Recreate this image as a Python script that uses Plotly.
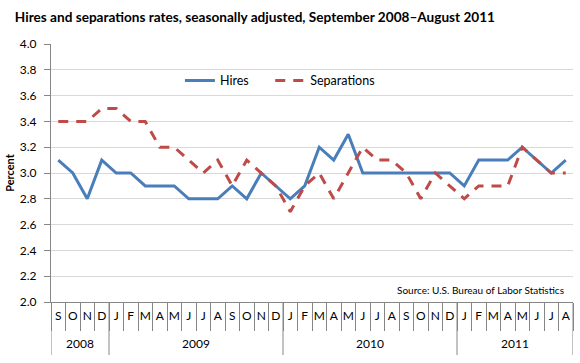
import plotly.graph_objects as go

years = ["2008"] * 4 + ["2009"] * 12 + ["2010"] * 12 + ["2011"] * 8
months = (["S", "O", "N", "D"]
          + ["J", "F", "M", "A", "M", "J", "J", "A", "S", "O", "N", "D"]
          + ["J", "F", "M", "A", "M", "J", "J", "A", "S", "O", "N", "D"]
          + ["J", "F", "M", "A", "M", "J", "J", "A"])

hires = [3.1, 3.0, 2.8, 3.1,
         3.0, 3.0, 2.9, 2.9, 2.9, 2.8, 2.8, 2.8, 2.9, 2.8, 3.0, 2.9,
         2.8, 2.9, 3.2, 3.1, 3.3, 3.0, 3.0, 3.0, 3.0, 3.0, 3.0, 3.0,
         2.9, 3.1, 3.1, 3.1, 3.2, 3.1, 3.0, 3.1]
separations = [3.4, 3.4, 3.4, 3.5,
               3.5, 3.4, 3.4, 3.2, 3.2, 3.1, 3.0, 3.1, 2.9, 3.1, 3.0, 2.9,
               2.7, 2.9, 3.0, 2.8, 3.0, 3.2, 3.1, 3.1, 3.0, 2.8, 3.0, 2.9,
               2.8, 2.9, 2.9, 2.9, 3.2, 3.1, 3.0, 3.0]

idx = list(range(len(months)))

# year groups (start, end index) derived from the years list
groups = []
for i, y in enumerate(years):
    if not groups or groups[-1][0] != y:
        groups.append([y, i, i])
    else:
        groups[-1][2] = i

FONT = "Lato"
AXIS = "#868686"
PLOT_H = 258  # pixel height of plot area

fig = go.Figure()
fig.add_trace(go.Scatter(x=idx, y=hires, mode="lines", name="Hires", legend="legend",
                         showlegend=True, line=dict(color="#4A7EBB", width=3)))
fig.add_trace(go.Scatter(x=idx, y=separations, mode="lines", name="Separations", legend="legend2",
                         showlegend=True, line=dict(color="#BE4B48", width=3, dash="10px,8px")))

shapes = []
for y, a, b in groups:
    shapes.append(dict(type="line", xref="x", yref="paper", x0=a - 0.5, x1=a - 0.5,
                       y0=0, y1=-53 / PLOT_H, line=dict(color=AXIS, width=1)))
shapes.append(dict(type="line", xref="x", yref="paper", x0=groups[-1][2] + 0.5,
                   x1=groups[-1][2] + 0.5, y0=0, y1=-53 / PLOT_H,
                   line=dict(color=AXIS, width=1)))

annotations = [dict(text=y, x=(a + b) / 2, xref="x", y=-41 / PLOT_H, yref="paper",
                    yanchor="middle", showarrow=False,
                    font=dict(family=FONT, size=12, color="black"))
               for y, a, b in groups]
annotations.append(dict(text="Source: U.S. Bureau of Labor Statistics", x=0.9866, xanchor="right",
                        y=0.047, yanchor="middle", xref="paper", yref="paper", showarrow=False,
                        font=dict(family=FONT, size=10, color="black")))

legend_common = dict(orientation="h", y=0.857, yanchor="middle", bgcolor="rgba(0,0,0,0)",
                     font=dict(family=FONT, size=12.5, color="black"), xanchor="left")

fig.update_layout(
    width=580, height=363,
    showlegend=True,
    margin=dict(l=51, r=7, t=44, b=61),
    paper_bgcolor="white", plot_bgcolor="white",
    font=dict(family=FONT, size=11, color="#222222"),
    title=dict(text="<b>Hires and separations rates, seasonally adjusted, September 2008\u2013August 2011</b>",
               x=0.4395, xanchor="center", xref="container",
               y=1 - 17 / 363, yanchor="middle", yref="container",
               font=dict(family=FONT, size=13.6, color="black")),
    legend=dict(x=0.247, **legend_common),
    legend2=dict(x=0.42, **legend_common),
    xaxis=dict(range=[-0.5, len(months) - 0.5], tickmode="array", tickvals=idx, ticktext=months,
               ticks="", showline=True, linecolor=AXIS, linewidth=1, showgrid=False,
               zeroline=False, tickangle=0, tickfont=dict(size=12, color="black"),
               ticklabelstandoff=3, automargin=False,
               minor=dict(ticks="outside", tick0=-0.5, dtick=1, ticklen=28, tickcolor=AXIS,
                          showgrid=False)),
    yaxis=dict(range=[2, 4], dtick=0.2, tickformat=".1f", showgrid=True,
               gridcolor="#D9D9D9", showline=True, linecolor=AXIS, linewidth=1,
               ticks="outside", ticklen=6, tickcolor=AXIS, zeroline=False,
               ticklabelstandoff=5, automargin=False,
               tickfont=dict(size=12, color="black"),
               title=dict(text="<b>Percent</b>", font=dict(size=11, color="black"), standoff=2)),
    shapes=shapes,
    annotations=annotations,
)

fig.write_html("out.html", config={"displayModeBar": False},
               post_script="document.body.style.margin='0';")
